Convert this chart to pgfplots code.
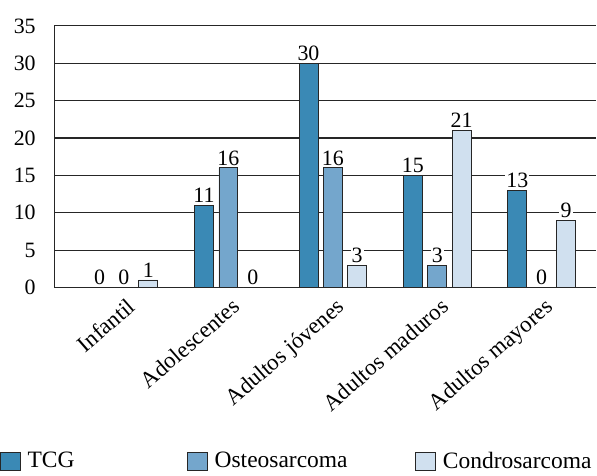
\documentclass[border=0pt]{standalone}
\usepackage{fontspec}
\setmainfont{Liberation Serif}
\usepackage{pgfplots}
\pgfplotsset{compat=1.18}
\definecolor{tcg}{HTML}{3A89B5}
\definecolor{osteo}{HTML}{74A6CC}
\definecolor{condro}{HTML}{D0E0EF}
\begin{document}
\fontsize{11}{13}\selectfont
\begin{tikzpicture}
\begin{axis}[
    at={(0,0)}, anchor=south west,
    scale only axis,
    width=272.5pt, height=131.5pt,
    ybar=2.75pt, bar width=9.5pt,
    xmin=-0.667, xmax=4.524,
    ymin=0, ymax=35, ytick distance=5,
    xtick=data,
    xticklabels={Infantil, Adolescentes, Adultos jóvenes, Adultos maduros, Adultos mayores},
    xticklabel style={rotate=41, anchor=north east, xshift=1.5pt, yshift=-0.5pt,
        font=\fontsize{11.5}{13}\selectfont},
    /pgf/number format/assume math mode=true,
    yticklabel={\pgfmathprintnumber{\tick}},
    yticklabel style={xshift=-5.5pt},
    major tick length=0pt,
    axis x line*=bottom, axis y line*=left,
    axis line style={-, black!85, line width=0.6pt},
    ymajorgrids, grid style={black!85, line width=0.55pt},
    every axis plot/.append style={draw=black!85, line width=0.4pt},
    nodes near coords={\pgfmathprintnumber{\pgfplotspointmeta}},
    nodes near coords style={fill=white, inner sep=0.6pt, yshift=0.5pt},
    legend columns=3,
    legend style={at={(-0.1009,-0.6654)}, anchor=west, draw=none, inner sep=0pt,
        font=\fontsize{11.8}{14}\selectfont,
        /tikz/every odd column/.style={column sep=3.5pt},
        /tikz/column 2/.style={column sep=56.5pt},
        /tikz/column 4/.style={column sep=34pt},
        nodes={inner sep=0pt}},
    legend image code/.code={\draw[#1] (0pt,-4.5pt) rectangle (10pt,4.5pt);},
]
\addplot[fill=tcg] coordinates {(0,0) (1,11) (2,30) (3,15) (4,13)};
\addplot[fill=osteo] coordinates {(0,0) (1,16) (2,16) (3,3) (4,0)};
\addplot[fill=condro] coordinates {(0,1) (1,0) (2,3) (3,21) (4,9)};
\legend{TCG, Osteosarcoma, Condrosarcoma}
\end{axis}
\path[use as bounding box] (-26pt,-94.5pt) rectangle (272.5pt,144.5pt);
\end{tikzpicture}
\end{document}
